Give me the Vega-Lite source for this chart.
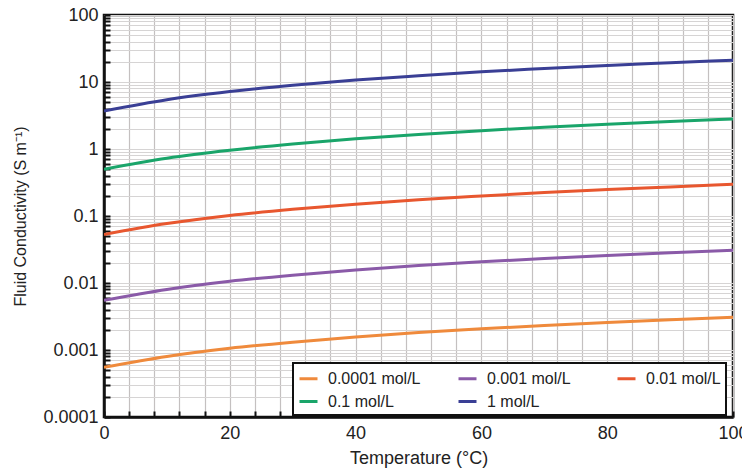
{
  "$schema": "https://vega.github.io/schema/vega-lite/v6.json",
  "width": 629,
  "height": 402,
  "autosize": {"type": "none"},
  "padding": {"left": 104, "top": 15, "right": 9, "bottom": 51},
  "background": "white",
  "config": {
    "font": "Liberation Sans",
    "view": {"stroke": "#111111", "strokeWidth": 2.5},
    "legend": {"strokeWidth": 2},
    "axis": {
      "labelFont": "Liberation Sans",
      "titleFont": "Liberation Sans",
      "labelColor": "#222222",
      "titleColor": "#222222",
      "titleFontWeight": "normal",
      "domainColor": "#111111",
      "domainWidth": 2.5,
      "tickColor": "#111111",
      "tickWidth": 2,
      "labelOverlap": false
    }
  },
  "data": {
    "values": [
      {"T": 0, "sigma": 0.00055, "c": "0.0001 mol/L"},
      {"T": 10, "sigma": 0.00080, "c": "0.0001 mol/L"},
      {"T": 20, "sigma": 0.00106, "c": "0.0001 mol/L"},
      {"T": 30, "sigma": 0.00131, "c": "0.0001 mol/L"},
      {"T": 40, "sigma": 0.00156, "c": "0.0001 mol/L"},
      {"T": 50, "sigma": 0.00182, "c": "0.0001 mol/L"},
      {"T": 60, "sigma": 0.00207, "c": "0.0001 mol/L"},
      {"T": 70, "sigma": 0.00232, "c": "0.0001 mol/L"},
      {"T": 80, "sigma": 0.00257, "c": "0.0001 mol/L"},
      {"T": 90, "sigma": 0.00283, "c": "0.0001 mol/L"},
      {"T": 100, "sigma": 0.00308, "c": "0.0001 mol/L"},
      {"T": 0, "sigma": 0.0055, "c": "0.001 mol/L"},
      {"T": 10, "sigma": 0.0080, "c": "0.001 mol/L"},
      {"T": 20, "sigma": 0.0106, "c": "0.001 mol/L"},
      {"T": 30, "sigma": 0.0131, "c": "0.001 mol/L"},
      {"T": 40, "sigma": 0.0156, "c": "0.001 mol/L"},
      {"T": 50, "sigma": 0.0182, "c": "0.001 mol/L"},
      {"T": 60, "sigma": 0.0207, "c": "0.001 mol/L"},
      {"T": 70, "sigma": 0.0232, "c": "0.001 mol/L"},
      {"T": 80, "sigma": 0.0257, "c": "0.001 mol/L"},
      {"T": 90, "sigma": 0.0283, "c": "0.001 mol/L"},
      {"T": 100, "sigma": 0.0308, "c": "0.001 mol/L"},
      {"T": 0, "sigma": 0.053, "c": "0.01 mol/L"},
      {"T": 10, "sigma": 0.077, "c": "0.01 mol/L"},
      {"T": 20, "sigma": 0.102, "c": "0.01 mol/L"},
      {"T": 30, "sigma": 0.126, "c": "0.01 mol/L"},
      {"T": 40, "sigma": 0.150, "c": "0.01 mol/L"},
      {"T": 50, "sigma": 0.175, "c": "0.01 mol/L"},
      {"T": 60, "sigma": 0.199, "c": "0.01 mol/L"},
      {"T": 70, "sigma": 0.224, "c": "0.01 mol/L"},
      {"T": 80, "sigma": 0.248, "c": "0.01 mol/L"},
      {"T": 90, "sigma": 0.272, "c": "0.01 mol/L"},
      {"T": 100, "sigma": 0.297, "c": "0.01 mol/L"},
      {"T": 0, "sigma": 0.50, "c": "0.1 mol/L"},
      {"T": 10, "sigma": 0.73, "c": "0.1 mol/L"},
      {"T": 20, "sigma": 0.96, "c": "0.1 mol/L"},
      {"T": 30, "sigma": 1.19, "c": "0.1 mol/L"},
      {"T": 40, "sigma": 1.42, "c": "0.1 mol/L"},
      {"T": 50, "sigma": 1.65, "c": "0.1 mol/L"},
      {"T": 60, "sigma": 1.88, "c": "0.1 mol/L"},
      {"T": 70, "sigma": 2.11, "c": "0.1 mol/L"},
      {"T": 80, "sigma": 2.34, "c": "0.1 mol/L"},
      {"T": 90, "sigma": 2.57, "c": "0.1 mol/L"},
      {"T": 100, "sigma": 2.80, "c": "0.1 mol/L"},
      {"T": 0, "sigma": 3.7, "c": "1 mol/L"},
      {"T": 10, "sigma": 5.45, "c": "1 mol/L"},
      {"T": 20, "sigma": 7.2, "c": "1 mol/L"},
      {"T": 30, "sigma": 8.95, "c": "1 mol/L"},
      {"T": 40, "sigma": 10.7, "c": "1 mol/L"},
      {"T": 50, "sigma": 12.4, "c": "1 mol/L"},
      {"T": 60, "sigma": 14.2, "c": "1 mol/L"},
      {"T": 70, "sigma": 15.9, "c": "1 mol/L"},
      {"T": 80, "sigma": 17.7, "c": "1 mol/L"},
      {"T": 90, "sigma": 19.4, "c": "1 mol/L"},
      {"T": 100, "sigma": 21.2, "c": "1 mol/L"}
    ]
  },
  "mark": {"type": "line", "strokeWidth": 3, "interpolate": "monotone", "clip": true},
  "encoding": {
    "x": {
      "field": "T",
      "type": "quantitative",
      "scale": {"domain": [0, 100], "nice": false},
      "axis": {
        "title": "Temperature (°C)",
        "titleFontSize": 18,
        "titlePadding": 7,
        "labelFontSize": 18,
        "labelPadding": 13,
        "labelFlush": false,
        "tickSize": -6,
        "values": [0, 4, 8, 12, 16, 20, 24, 28, 32, 36, 40, 44, 48, 52, 56, 60, 64, 68, 72, 76, 80, 84, 88, 92, 96, 100],
        "labelExpr": "datum.value % 20 === 0 ? datum.label : ''",
        "gridColor": "#c4c0c0",
        "gridWidth": 1.2
      }
    },
    "y": {
      "field": "sigma",
      "type": "quantitative",
      "scale": {"type": "log", "domain": [0.0001, 100], "nice": false},
      "axis": {
        "title": "Fluid Conductivity (S m⁻¹)",
        "titleFontSize": 16,
        "titlePadding": 14,
        "labelFontSize": 18,
        "labelPadding": 12,
        "labelFlush": false,
        "tickSize": -6,
        "values": [0.0001, 0.0002, 0.0003, 0.0004, 0.0005, 0.0006, 0.0007, 0.0008, 0.0009,
                   0.001, 0.002, 0.003, 0.004, 0.005, 0.006, 0.007, 0.008, 0.009,
                   0.01, 0.02, 0.03, 0.04, 0.05, 0.06, 0.07, 0.08, 0.09,
                   0.1, 0.2, 0.3, 0.4, 0.5, 0.6, 0.7, 0.8, 0.9,
                   1, 2, 3, 4, 5, 6, 7, 8, 9,
                   10, 20, 30, 40, 50, 60, 70, 80, 90, 100],
        "labelExpr": "abs(log(datum.value) / LN10 - round(log(datum.value) / LN10)) < 1e-6 ? format(datum.value, '~g') : ''",
        "gridColor": "#d6d4d4",
        "gridWidth": 1
      }
    },
    "color": {
      "field": "c",
      "type": "nominal",
      "scale": {
        "domain": ["0.0001 mol/L", "0.001 mol/L", "0.01 mol/L", "0.1 mol/L", "1 mol/L"],
        "range": ["#ef8a3c", "#8a5aa8", "#e8572f", "#1aa56a", "#3a3f95"]
      },
      "legend": {
        "title": null,
        "orient": "none",
        "legendX": 189,
        "legendY": 348,
        "direction": "horizontal",
        "columns": 3,
        "gridAlign": "all",
        "columnPadding": 31,
        "rowPadding": 4,
        "padding": 5,
        "symbolType": "stroke",
        "symbolSize": 324,
        "symbolStrokeWidth": 3,
        "labelFont": "Liberation Sans",
        "labelFontSize": 16,
        "labelColor": "#222222",
        "labelOffset": 9,
        "labelLimit": 200,
        "strokeColor": "#111111",
        "fillColor": "white",
        "cornerRadius": 0
      }
    }
  }
}
